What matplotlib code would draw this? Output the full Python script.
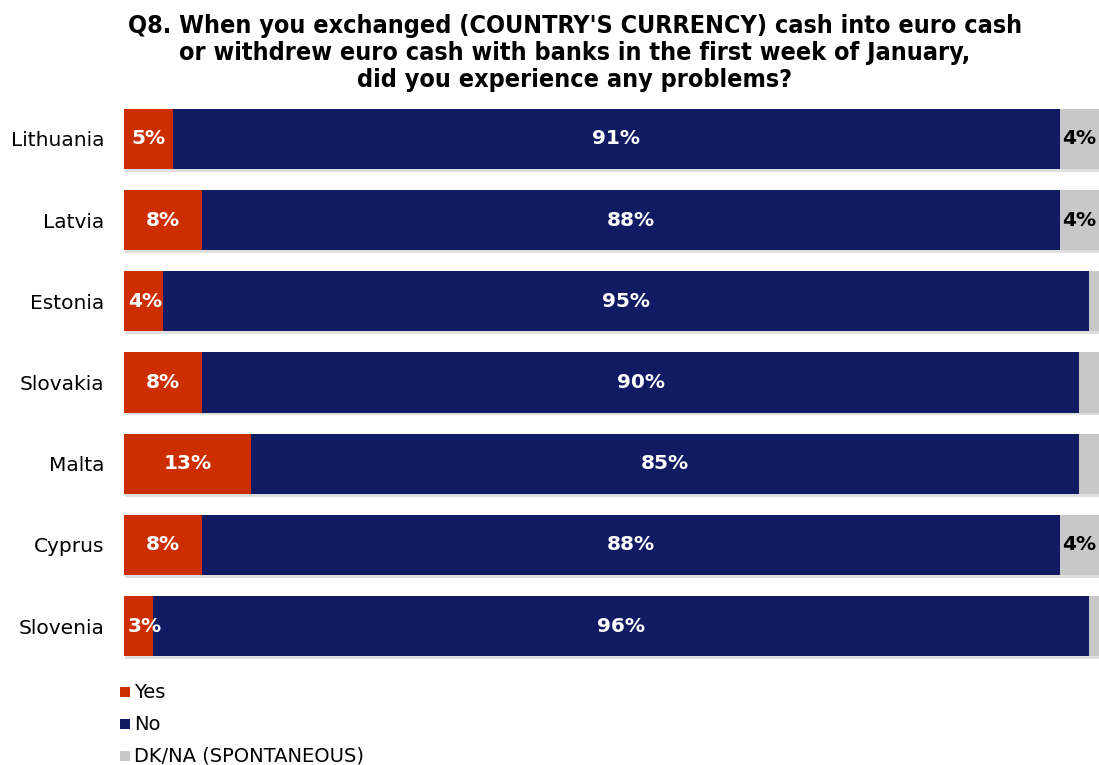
import matplotlib
matplotlib.use("Agg")
import matplotlib.pyplot as plt
from matplotlib.patches import Rectangle

countries = ["Lithuania", "Latvia", "Estonia", "Slovakia", "Malta", "Cyprus", "Slovenia"]
yes = [5, 8, 4, 8, 13, 8, 3]
no = [91, 88, 95, 90, 85, 88, 96]
dk = [4, 4, 1, 2, 2, 4, 1]
dk_labelled = [True, True, False, False, False, True, False]

series_names = ["Yes", "No", "DK/NA (SPONTANEOUS)"]
colors = ["#CC2E00", "#101B63", "#C8C8C8"]
title = ("Q8. When you exchanged (COUNTRY'S CURRENCY) cash into euro cash\n"
         "or withdrew euro cash with banks in the first week of January,\n"
         "did you experience any problems?")

fig = plt.figure(figsize=(10.99, 7.65), dpi=100)
ax = fig.add_axes([0.1128, 0.1286, 0.8872, 0.7428])

ypos = list(range(len(countries)))
h = 0.74

# soft drop shadow under each bar
for y, a, b, c in zip(ypos, yes, no, dk):
    ax.add_patch(Rectangle((0.1, y - h / 2 + 0.035), a + b + c, h,
                           facecolor="#DEDEDE", edgecolor="none", zorder=1))

left = [0] * len(countries)
for vals, col in zip([yes, no, dk], colors):
    ax.barh(ypos, vals, left=left, height=h, color=col, edgecolor="none", zorder=2)
    left = [l + v for l, v in zip(left, vals)]

lab_kw = dict(va="center", fontsize=14.5, fontweight="bold", family="DejaVu Sans", zorder=3)
for y, a, b, c, show in zip(ypos, yes, no, dk, dk_labelled):
    if a < 5:
        ax.text(0.4, y, f"{a}%", ha="left", color="white", **lab_kw)
    else:
        ax.text(a / 2, y, f"{a}%", ha="center", color="white", **lab_kw)
    ax.text(a + b / 2, y, f"{b}%", ha="center", color="white", **lab_kw)
    if show:
        ax.text(a + b + c / 2, y, f"{c}%", ha="center", color="black", **lab_kw)

ax.set_xlim(0, 100)
ax.set_ylim(len(countries) - 0.5, -0.5)
ax.set_yticks(ypos)
ax.set_yticklabels(countries, fontsize=14.5, family="DejaVu Sans")
ax.tick_params(axis="y", length=0, pad=14)
ax.set_xticks([])
for s in ax.spines.values():
    s.set_visible(False)

fig.text(0.523, 0.982, title, ha="center", va="top", fontsize=18, fontweight="bold",
         family="DejaVu Sans", fontstretch="condensed", linespacing=1.17)

# legend entries stacked at the lower left
for i, (name, col) in enumerate(zip(series_names, colors)):
    yy = 692 + i * 32
    fig.patches.append(Rectangle((120 / 1099, 1 - (yy + 5) / 765), 10 / 1099, 10 / 765,
                                 transform=fig.transFigure, facecolor=col, edgecolor="none"))
    fig.text(134 / 1099, 1 - yy / 765, name, ha="left", va="center", fontsize=14,
             family="DejaVu Sans")

fig.savefig("out.png", dpi=100)
